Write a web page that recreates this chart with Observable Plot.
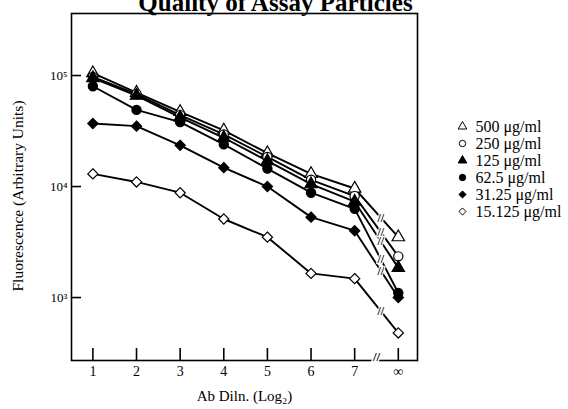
<!DOCTYPE html>
<html>
<head>
<meta charset="utf-8">
<script src="https://cdn.jsdelivr.net/npm/d3@7"></script>
<script src="https://cdn.jsdelivr.net/npm/@observablehq/plot@0.6"></script>
<style>
  body { margin: 0; background: white; }
  #wrap { position: relative; width: 568px; height: 409px; overflow: hidden; background: white; }
  #legend { position: absolute; left: 455px; top: 115px; line-height: 0; }
  svg { overflow: hidden; }
</style>
</head>
<body>
<div id="wrap"><div id="chart"></div><div id="legend"></div></div>
<script>
const titleText = "Quality of Assay Particles";
const xLabel = "Ab Diln. (Log₂)";
const yLabel = "Fluorescence (Arbitrary Units)";
const xs = [1, 2, 3, 4, 5, 6, 7, 8];
const xTickLabels = ["1", "2", "3", "4", "5", "6", "7", "∞"];
const yTicks = [1e3, 1e4, 1e5];
const yTickLabels = ["10³", "10⁴", "10⁵"];
const seriesNames = ["500 μg/ml", "250 μg/ml", "125 μg/ml", "62.5 μg/ml", "31.25 μg/ml", "15.125 μg/ml"];
const openSeries = ["500 μg/ml", "250 μg/ml", "15.125 μg/ml"];
const v500 = [105000, 70000, 47000, 32000, 20000, 13000, 9600, 3500];
const v250 = [97000, 68000, 44000, 29500, 18500, 11500, 8200, 2350];
const v125 = [95000, 66000, 42000, 27500, 17000, 10500, 7300, 1850];
const v62 = [80000, 49000, 38000, 24000, 14500, 8800, 6300, 1100];
const v31 = [37000, 35000, 23500, 14800, 10000, 5300, 4000, 1000];
const v15 = [13000, 11000, 8800, 5100, 3500, 1650, 1480, 480];
const allValues = [v500, v250, v125, v62, v31, v15];

const data = [];
seriesNames.forEach((s, i) => xs.forEach((x, j) => data.push({series: s, x, y: allValues[i][j]})));

// break marks on each line between 7 and ∞
const breaks = seriesNames.map((s, i) => {
  const a = allValues[i][6], b = allValues[i][7];
  return {series: s, x: 7.6, y: Math.exp(Math.log(a) + 0.6 * (Math.log(b) - Math.log(a)))};
});

const symbolRange = [d3.symbolTriangle, d3.symbolCircle, d3.symbolTriangle, d3.symbolCircle,
  d3.symbolDiamond2 || d3.symbolDiamond, d3.symbolDiamond2 || d3.symbolDiamond];
const fillOf = d => openSeries.includes(d.series) ? "white" : "black";
const font = "'Liberation Serif', 'Times New Roman', serif";

const W = 568, H = 409, mL = 71, mR = 151, mT = 13, mB = 49;
const innerW = W - mL - mR, innerH = H - mT - mB;

const chart = Plot.plot({
  width: W, height: H,
  marginLeft: mL, marginRight: mR, marginTop: mT, marginBottom: mB,
  style: {fontFamily: font, fontSize: "13px", color: "black", background: "white"},
  x: {domain: [0.51, 8.44]},
  y: {type: "log", domain: [271, 362000]},
  symbol: {domain: seriesNames, range: symbolRange},
  color: {type: "identity"},
  marks: [
    Plot.ruleX(xs, {x: d => d, insetTop: innerH - 12, stroke: "black", strokeWidth: 1.6}),
    Plot.ruleY(yTicks, {y: d => d, insetRight: innerW - 10, stroke: "black", strokeWidth: 1.6}),
    Plot.axisX({ticks: xs, tickFormat: d => xTickLabels[xs.indexOf(d)], tickSize: 0, tickPadding: 6,
      fontSize: 14, label: null}),
    Plot.axisY({ticks: yTicks, tickFormat: d => yTickLabels[yTicks.indexOf(d)], tickSize: 0, tickPadding: 4,
      fontSize: 13, label: null}),
    Plot.text([xLabel], {text: d => d, frameAnchor: "bottom", dy: 40, fontSize: 15, fill: "black"}),
    Plot.text([yLabel], {text: d => d, frameAnchor: "left", textAnchor: "middle", dx: -53, dy: 9,
      rotate: -90, fontSize: 15.5, fill: "black"}),
    Plot.line(data, {x: "x", y: "y", z: "series", stroke: "black", strokeWidth: 1.9}),
    Plot.text(breaks, {x: "x", y: "y", text: () => "//", fontSize: 12, fontWeight: "bold",
      fill: "black", stroke: "white", strokeWidth: 2.5}),
    Plot.dot(data, {x: "x", y: "y", symbol: "series", fill: fillOf, stroke: "black", strokeWidth: 1.2, r: 4.6}),
    Plot.frame({stroke: "black", strokeWidth: 1.6}),
    Plot.text([7.5], {x: d => d, frameAnchor: "bottom", text: () => "//", fontSize: 13, fontWeight: "bold",
      fill: "black", stroke: "white", strokeWidth: 3}),
    Plot.text([titleText], {frameAnchor: "top", text: d => d, dx: 31, dy: -20, fontSize: 25,
      fontWeight: "bold", fill: "black"})
  ]
});
document.getElementById("chart").appendChild(chart);

const legend = Plot.plot({
  width: 113, height: 110, margin: 0,
  style: {fontFamily: font, fontSize: "16px", color: "black", background: "transparent"},
  x: {domain: [0, 113], range: [0, 113], axis: null},
  y: {type: "point", domain: seriesNames, range: [10, 97], padding: 0, axis: null},
  symbol: {domain: seriesNames, range: symbolRange},
  color: {type: "identity"},
  marks: [
    Plot.dot(seriesNames, {x: () => 7, y: d => d, symbol: d => d, fill: d => openSeries.includes(d) ? "white" : "black",
      stroke: "black", strokeWidth: 1, r: 3.2}),
    Plot.text(seriesNames, {x: () => 20, y: d => d, text: d => d, textAnchor: "start", fill: "black", fontSize: 16})
  ]
});
document.getElementById("legend").appendChild(legend);
</script>
</body>
</html>
